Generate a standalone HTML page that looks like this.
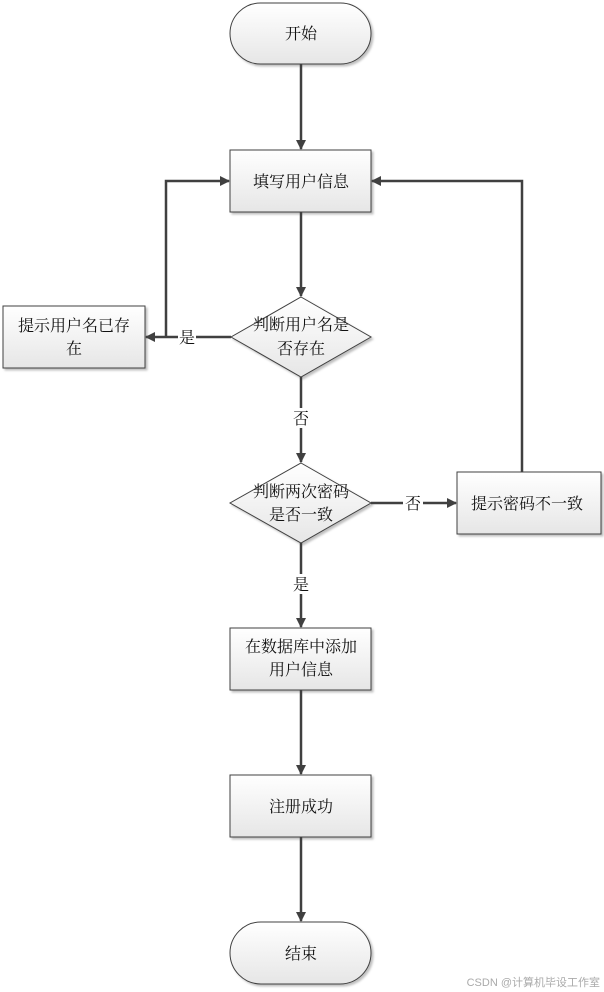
<!DOCTYPE html>
<html><head><meta charset="utf-8"><style>
html,body{margin:0;padding:0;background:#fff;}
svg{display:block;}
text{font-family:"Liberation Serif","Noto Serif CJK SC","Noto Sans CJK SC",serif;font-size:16px;fill:#111;}
</style></head><body>
<svg width="604" height="992" viewBox="0 0 604 992" xmlns="http://www.w3.org/2000/svg">
<defs>
<linearGradient id="g" x1="0" y1="0" x2="0" y2="1"><stop offset="0" stop-color="#ffffff"/><stop offset="1" stop-color="#e6e6e6"/></linearGradient>
<marker id="a" markerWidth="10" markerHeight="10" refX="9" refY="5" orient="auto" markerUnits="userSpaceOnUse"><path d="M0,0 L10,5 L0,10 z" fill="#404040"/></marker>
<filter id="s" x="-10%" y="-10%" width="130%" height="130%"><feDropShadow dx="2" dy="2" stdDeviation="1" flood-color="#000" flood-opacity="0.25"/></filter>
</defs>
<g stroke="#404040" stroke-width="1" fill="url(#g)" filter="url(#s)">
<rect x="230" y="3" width="141" height="61" rx="30.5"/>
<rect x="230" y="150" width="141" height="62"/>
<polygon points="301,297 371,337 301,377 231,337"/>
<rect x="3" y="306" width="142" height="62"/>
<polygon points="301,463 371,503 301,543 230,503"/>
<rect x="457" y="472" width="144" height="62"/>
<rect x="230" y="628" width="141" height="62"/>
<rect x="230" y="775" width="141" height="62"/>
<rect x="230" y="922" width="141" height="62" rx="31"/>
</g>
<g stroke="#404040" stroke-width="2.5" fill="none" marker-end="url(#a)">
<line x1="301" y1="64" x2="301" y2="149"/>
<line x1="301" y1="212" x2="301" y2="296"/>
<line x1="231" y1="337" x2="146" y2="337"/>
<polyline points="166,337 166,181 229,181"/>
<line x1="301" y1="377" x2="301" y2="462"/>
<line x1="371" y1="503" x2="456" y2="503"/>
<polyline points="522,472 522,181 372,181"/>
<line x1="301" y1="543" x2="301" y2="627"/>
<line x1="301" y1="690" x2="301" y2="774"/>
<line x1="301" y1="837" x2="301" y2="921"/>
</g>
<g fill="#fff">
<rect x="178" y="327" width="18" height="20"/>
<rect x="291" y="408" width="20" height="20"/>
<rect x="403" y="493" width="20" height="20"/>
<rect x="291" y="574" width="20" height="20"/>
</g>
<g text-anchor="middle">
<text x="301" y="39">开始</text>
<text x="301" y="187">填写用户信息</text>
<text x="301" y="330">判断用户名是</text>
<text x="301" y="354">否存在</text>
<text x="74" y="331">提示用户名已存</text>
<text x="74" y="354">在</text>
<text x="187" y="343">是</text>
<text x="301" y="424">否</text>
<text x="301" y="497">判断两次密码</text>
<text x="301" y="520">是否一致</text>
<text x="413" y="509">否</text>
<text x="527" y="509">提示密码不一致</text>
<text x="301" y="590">是</text>
<text x="301" y="652">在数据库中添加</text>
<text x="301" y="675">用户信息</text>
<text x="301" y="812">注册成功</text>
<text x="301" y="959">结束</text>
</g>
<text x="600" y="986" text-anchor="end" style="font-family:'Liberation Sans','Noto Sans CJK SC',sans-serif;font-size:11px;fill:#aaa">CSDN @计算机毕设工作室</text>
</svg>
</body></html>
